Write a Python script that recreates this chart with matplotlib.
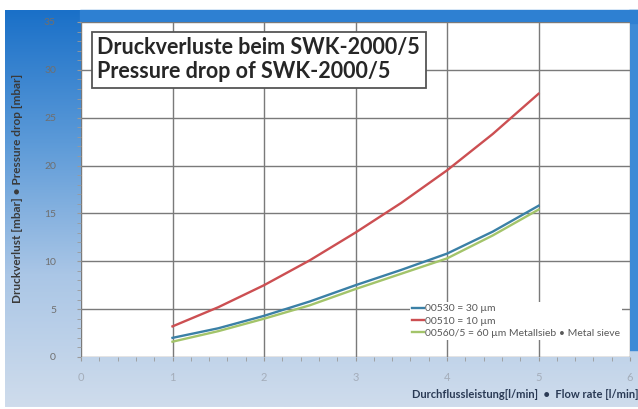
import numpy as np
import matplotlib
matplotlib.use("Agg")
import matplotlib.pyplot as plt
from matplotlib.colors import LinearSegmentedColormap

plt.rcParams['font.family'] = ['Lato', 'DejaVu Sans']

# values
flow = [1, 1.5, 2, 2.5, 3, 3.5, 4, 4.5, 5]
p_00530 = [2.0, 3.0, 4.3, 5.8, 7.5, 9.1, 10.8, 13.1, 15.8]
p_00510 = [3.2, 5.2, 7.5, 10.1, 13.0, 16.1, 19.5, 23.3, 27.5]
p_00560 = [1.6, 2.7, 4.0, 5.4, 7.1, 8.7, 10.3, 12.7, 15.4]

labels = ['00530 = 30 µm', '00510 = 10 µm', '00560/5 = 60 µm Metallsieb • Metal sieve']
colors = ['#3b80a6', '#cc4f52', '#a3c46a']

fig = plt.figure(figsize=(6.38, 4.09), dpi=100)

# background frame with blue gradient
bg = fig.add_axes([0, 0, 1, 1])
bg.set_axis_off()
cmap = LinearSegmentedColormap.from_list('frame', ['#1a70c8', '#5c9ad8', '#aac6e6', '#cfdcec'])
grad = np.linspace(0, 1, 256).reshape(-1, 1)
bg.imshow(grad, cmap=cmap, aspect='auto', extent=[5, 638, 407, 10])
bg.add_patch(plt.Rectangle((629, 10), 9, 340, color='#3d8ad6', zorder=2))
bg.add_patch(plt.Rectangle((80, 10), 558, 13, color='#2e80d2', zorder=2))
bg.set_xlim(0, 638)
bg.set_ylim(409, 0)

ax = fig.add_axes([81 / 638, 1 - 357 / 409, 549 / 638, 335 / 409])
ax.set_facecolor('white')

for y, c, lab in zip([p_00530, p_00510, p_00560], colors, labels):
    ax.plot(flow, y, color=c, lw=1.7, label=lab)

ax.set_xlim(0, 6)
ax.set_ylim(0, 35)
ax.set_xticks(range(0, 7))
ax.set_yticks(range(0, 36, 5))
ax.set_xticks(np.arange(0, 6.01, 0.2), minor=True)
ax.set_yticks(range(0, 36), minor=True)
ax.grid(True, which='major', color='#7a7a7a', lw=1)
ax.set_axisbelow(True)
for s in ax.spines.values():
    s.set_visible(False)
ax.tick_params(which='both', colors='#9a9a9a', length=3, direction='out')
ax.tick_params(axis='y', which='major', labelcolor='#6f6f6f', labelsize=7.5, pad=15)
ax.tick_params(axis='x', which='major', labelcolor='#a4adba', labelsize=8, pad=8)

ax.legend(loc='lower right', bbox_to_anchor=(0.995, 0.035), frameon=True, facecolor='white',
          edgecolor='none', framealpha=1, fontsize=7.5, handlelength=1.1, handletextpad=0.1,
          labelspacing=0.3, labelcolor='#595959', borderpad=0.2)

ax.text(0.03, 0.955, 'Druckverluste beim SWK-2000/5\nPressure drop of SWK-2000/5',
        transform=ax.transAxes, ha='left', va='top', fontsize=15.5, fontweight='bold',
        color='#262626', linespacing=1.2,
        bbox=dict(boxstyle='square,pad=0.25', facecolor='white', edgecolor='#555555', lw=1.3))

fig.text(18 / 638, 1 - 188 / 409, 'Druckverlust [mbar] • Pressure drop [mbar]', rotation=90,
         ha='center', va='center', fontsize=8.5, fontweight='bold', color='#3a3a3a')
fig.text(1.0, 1 - 395 / 409, 'Durchflussleistung[l/min]  •  Flow rate [l/min]',
         ha='right', va='center', fontsize=8, fontweight='bold', color='#2a3a55')

fig.savefig('out.png', dpi=100)
